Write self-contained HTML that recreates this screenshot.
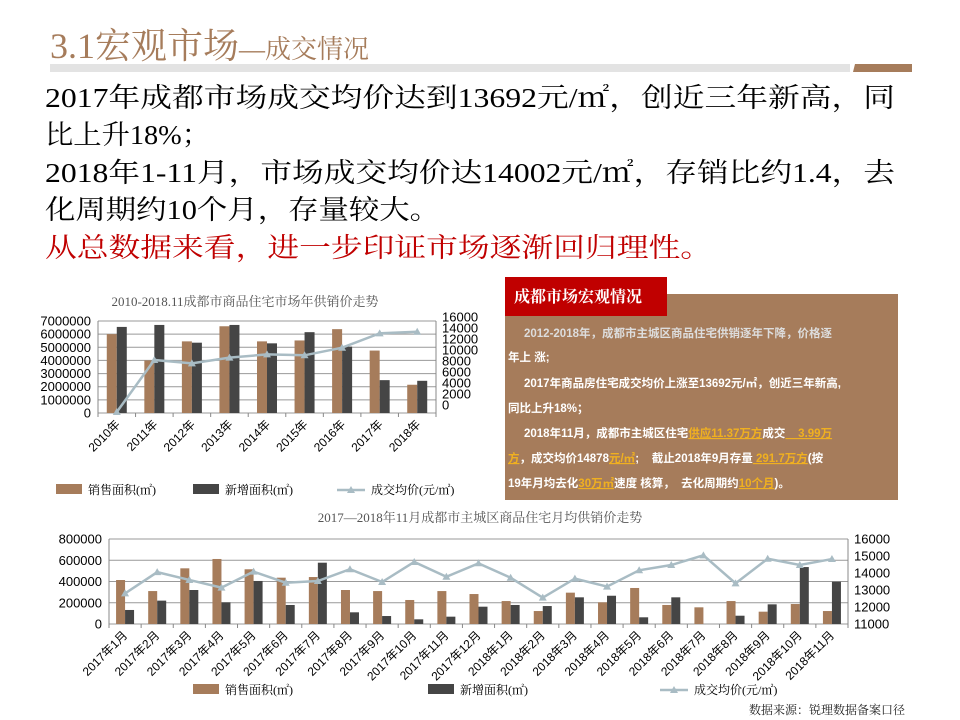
<!DOCTYPE html>
<html><head><meta charset="utf-8"><style>
html,body{margin:0;padding:0;background:#fff;}
svg{display:block;font-family:"Liberation Sans","Noto Sans CJK SC",sans-serif;}
.serif{font-family:"Liberation Serif","Noto Serif CJK SC","Noto Serif CJK JP",serif;}
</style></head><body>
<svg id="s" width="960" height="720" viewBox="0 0 960 720" xmlns="http://www.w3.org/2000/svg">
<g>
<text class="serif" x="50" y="58" font-size="36" fill="#a67c5b">3.1宏观市场<tspan font-size="26">—成交情况</tspan></text>
<rect x="50" y="64" width="800" height="8" fill="#e3e3e3"/>
<polygon points="855,64 912,64 912,72 853,72" fill="#a67c5b"/>
</g>
<g class="serif" font-size="27" fill="#000">
<text x="45" y="107" textLength="850" lengthAdjust="spacingAndGlyphs">2017年成都市场成交均价达到13692元/㎡，创近三年新高，同</text>
<text x="45" y="144" textLength="165" lengthAdjust="spacingAndGlyphs">比上升18%；</text>
<text x="45" y="182" textLength="850" lengthAdjust="spacingAndGlyphs">2018年1-11月，市场成交均价达14002元/㎡，存销比约1.4，去</text>
<text x="45" y="219" textLength="395" lengthAdjust="spacingAndGlyphs">化周期约10个月，存量较大。</text>
<text x="45" y="257" textLength="667" lengthAdjust="spacingAndGlyphs" fill="#c00000">从总数据来看，进一步印证市场逐渐回归理性。</text>
</g>
<g>
<rect x="505" y="294" width="393" height="206" fill="#a67c5b"/>
<rect x="505" y="277" width="162" height="39" fill="#c00000"/>
<text class="serif" x="514" y="302" font-size="16" font-weight="bold" fill="#fff">成都市场宏观情况</text>
<g font-size="11.5" font-weight="bold" fill="#fff">
<text x="524" y="337" fill="#ddd">2012-2018年，成都市主城区商品住宅供销逐年下降，价格逐</text>
<text x="508" y="361">年上 涨;</text>
<text x="524" y="387">2017年商品房住宅成交均价上涨至13692元/㎡，创近三年新高,</text>
<text x="508" y="412">同比上升18%；</text>
<text x="524" y="437">2018年11月，成都市主城区住宅<tspan fill="#f0b020" text-decoration="underline">供应11.37万方</tspan>成交<tspan fill="#f0b020" text-decoration="underline" xml:space="preserve">    3.99万</tspan></text>
<text x="508" y="462" xml:space="preserve"><tspan fill="#f0b020" text-decoration="underline">方</tspan>，成交均价14878<tspan fill="#f0b020" text-decoration="underline">元/㎡</tspan>;    截止2018年9月存量<tspan fill="#f0b020" text-decoration="underline"> 291.7万方</tspan>(按</text>
<text x="508" y="487" xml:space="preserve">19年月均去化<tspan fill="#f0b020" text-decoration="underline">30万㎡</tspan>速度 核算，  去化周期约<tspan fill="#f0b020" text-decoration="underline">10个月</tspan>)。</text>
</g>
</g>
<g id="c1"></g>
<g id="c2"></g>
<text class="serif" x="905" y="714" text-anchor="end" font-size="12" fill="#222">数据来源：锐理数据备案口径</text>
</svg>
<script>
// ---- Chart 1 data ----
const years = ["2010年","2011年","2012年","2013年","2014年","2015年","2016年","2017年","2018年"];
const yearSales = [6000000,4000000,5450000,6600000,5450000,5520000,6380000,4750000,2150000];
const yearNew = [6550000,6700000,5350000,6700000,5300000,6150000,5050000,2500000,2450000];
const yearPrice = [0,8760,8200,9150,9700,9550,10830,13250,13520];
const c1LeftTicks = [0,1000000,2000000,3000000,4000000,5000000,6000000,7000000];
const c1RightTicks = [0,2000,4000,6000,8000,10000,12000,14000,16000];
// ---- Chart 2 data ----
const months = ["2017年1月","2017年2月","2017年3月","2017年4月","2017年5月","2017年6月","2017年7月","2017年8月","2017年9月","2017年10月","2017年11月","2017年12月","2018年1月","2018年2月","2018年3月","2018年4月","2018年5月","2018年6月","2018年7月","2018年8月","2018年9月","2018年10月","2018年11月"];
const monthSales = [414000,310000,524000,612000,515000,436000,442000,320000,310000,226000,310000,282000,216000,122000,295000,204000,339000,179000,157000,216000,116000,188000,122000];
const monthNew = [132000,220000,320000,204000,405000,179000,577000,110000,75000,44000,69000,163000,179000,169000,251000,266000,63000,251000,0,78000,185000,536000,398000];
const monthPrice = [12800,14050,13590,13140,14080,13430,13530,14220,13470,14650,13780,14570,13720,12550,13670,13200,14160,14470,15040,13390,14840,14470,14820];
const c2LeftTicks = [0,200000,400000,600000,800000];
const c2RightTicks = [11000,12000,13000,14000,15000,16000];

const NS="http://www.w3.org/2000/svg";
function mk(p,tag,a,txt){const e=document.createElementNS(NS,tag);for(const k in a)e.setAttribute(k,a[k]);if(txt!==undefined)e.textContent=txt;p.appendChild(e);return e;}
const SALE="#a67c5b",NEW="#454545",LINE="#a9bcc4";
function tri(p,x,y){return mk(p,"polygon",{points:`${x},${y-4} ${x+4},${y+3} ${x-4},${y+3}`,fill:LINE});}

function chart(g,o){
  const n=o.cats.length, cw=(o.x1-o.x0)/n;
  const yl=v=>o.yb-(v-o.lmin)/(o.lmax-o.lmin)*(o.yb-o.yt);
  const yr=v=>o.rb-(v-o.rmin)/(o.rmax-o.rmin)*(o.rb-o.rt);
  const xc=i=>o.x0+cw*(i+0.5);
  const t=mk(g,"text",{x:o.tx,y:o.ty,"text-anchor":"middle","font-size":o.tfs,fill:"#555",class:"serif"},o.title);
  
  
  o.lt.forEach(v=>{const y=yl(v);
    const l=mk(g,"line",{x1:o.x0,x2:o.x1,y1:y,y2:y,stroke:"#999","stroke-width":1});
    
    
    const tx=mk(g,"text",{x:o.x0-7,y:y+4.5,"text-anchor":"end","font-size":13,fill:"#000"},String(v));
    
    
  });
  o.rt2.forEach(v=>{const y=o.rlab(v);
    const tx=mk(g,"text",{x:o.x1+6,y:y+4.5,"font-size":13,fill:"#000"},String(v));
    
    
  });
  mk(g,"line",{x1:o.x0,x2:o.x0,y1:o.yt,y2:o.yb,stroke:"#888"});
  mk(g,"line",{x1:o.x1,x2:o.x1,y1:o.yt,y2:o.yb,stroke:"#888"});
  for(let i=0;i<=n;i++){const x=o.x0+cw*i;mk(g,"line",{x1:x,x2:x,y1:o.yb,y2:o.yb+4,stroke:"#888"});}
  o.cats.forEach((c,i)=>{
    const x=xc(i);
    const b1=mk(g,"rect",{x:x-o.bw,y:yl(o.s1[i]),width:o.bw,height:o.yb-yl(o.s1[i]),fill:SALE});
    
    
    const b2=mk(g,"rect",{x:x,y:yl(o.s2[i]),width:o.bw,height:o.yb-yl(o.s2[i]),fill:NEW});
    
    
    const lx=x+o.lo, ly=o.yb+12;
    const tl=mk(g,"text",{x:lx,y:ly,"text-anchor":"end","font-size":o.xfs,fill:"#000",transform:`rotate(-45 ${lx} ${ly})`},c);
    
    
  });
  const pts=o.p.map((v,i)=>`${xc(i)},${yr(v)}`).join(" ");
  const pl=mk(g,"polyline",{points:pts,fill:"none",stroke:LINE,"stroke-width":2.5});
  
  
  o.p.forEach((v,i)=>{const m=tri(g,xc(i),yr(v));
    
    });
  const L=o.leg;
  const r1=mk(g,"rect",{x:L[0],y:L[3]-6,width:26,height:10,fill:SALE});
  
  
  const t1=mk(g,"text",{x:L[0]+32,y:L[3]+4,"font-size":12,class:"serif"},"销售面积(㎡)");
  
  
  const r2=mk(g,"rect",{x:L[1],y:L[3]-6,width:26,height:10,fill:NEW});
  
  
  const t2=mk(g,"text",{x:L[1]+32,y:L[3]+4,"font-size":12,class:"serif"},"新增面积(㎡)");
  
  
  mk(g,"line",{x1:L[2],x2:L[2]+28,y1:L[3],y2:L[3],stroke:LINE,"stroke-width":2.5});
  tri(g,L[2]+14,L[3]);
  const t3=mk(g,"text",{x:L[2]+34,y:L[3]+4,"font-size":12,class:"serif"},"成交均价(元/㎡)");
  
  
}
chart(document.getElementById("c1"),{
  cats:years,s1:yearSales,s2:yearNew,p:yearPrice,title:"2010-2018.11成都市商品住宅市场年供销价走势",tx:245,ty:306,tfs:13,
  x0:98,x1:436,yt:321,yb:413,lmin:0,lmax:7000000,lt:c1LeftTicks,
  rmin:0,rmax:16000,rb:412,rt:317,rt2:c1RightTicks,rlab:v=>405-v/16000*88,
  bw:10,lo:4,xfs:12,leg:[56,193,337,490]
});
chart(document.getElementById("c2"),{
  cats:months,s1:monthSales,s2:monthNew,p:monthPrice,title:"2017—2018年11月成都市主城区商品住宅月均供销价走势",tx:480,ty:522,tfs:13,
  x0:109,x1:848,yt:539,yb:624,lmin:0,lmax:800000,lt:c2LeftTicks,
  rmin:11000,rmax:16000,rb:624,rt:539,rt2:c2RightTicks,rlab:v=>624-(v-11000)/5000*85,
  bw:9,lo:3,xfs:12,leg:[193,428,660,690]
});
</script>
</body></html>
